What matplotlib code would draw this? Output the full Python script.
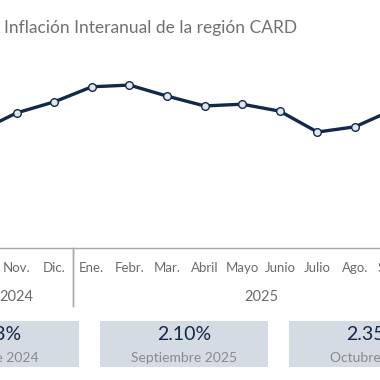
import matplotlib
matplotlib.use("Agg")
import matplotlib.pyplot as plt
from matplotlib.patches import Rectangle
from matplotlib.transforms import blended_transform_factory

plt.rcParams["font.family"] = ["Lato", "DejaVu Sans"]

# data
months = ["Oct.", "Nov.", "Dic.", "Ene.", "Febr.", "Mar.", "Abril", "Mayo",
          "Junio", "Julio", "Ago.", "Sept.", "Oct."]
inflation = [1.73, 2.05, 2.24, 2.50, 2.53, 2.34, 2.17, 2.20, 2.08, 1.72,
             1.81, 2.10, 2.35]
years = ["2024", "2025"]
year_spans = [(-0.5, 2.5), (2.5, 12.5)]
box_values = ["1.73%", "2.10%", "2.35%"]
box_labels = ["Octubre 2024", "Septiembre 2025", "Octubre 2025"]

navy = "#13284a"
grey = "#6b6b6b"
rule = "#a8a8a8"
box_col = "#d5dbe3"

fig = plt.figure(figsize=(3.8, 3.8), dpi=100)
ax = fig.add_axes([0, 0, 1, 1])
ax.set_axis_off()

# pixel mapping: 37.6 px per month, first month at x=-21 px
ax.set_xlim((0 + 21) / 37.6, (380 + 21) / 37.6)
ax.set_ylim(2.10 - 270 / 58, 2.10 + 110 / 58)

x = list(range(len(months)))
ax.plot(x, inflation, color=navy, lw=2.4, zorder=3, solid_capstyle="round")
ax.plot(x, inflation, ls="none", marker="o", ms=5.5, mfc="#dfe6f2",
        mec=navy, mew=1.0, zorder=4)

fig.text(4 / 380, 1 - 28 / 380, "Inflación Interanual de la región CARD",
         color="#707070", fontsize=12.5, va="center", ha="left")

tr = blended_transform_factory(ax.transData, ax.transAxes)
ax.plot([0, 1], [1 - 248 / 380] * 2, transform=ax.transAxes, color=rule,
        lw=1.0)

for i, m in enumerate(months):
    ax.text(i, 1 - 268 / 380, m, transform=tr, ha="center", va="center",
            color=grey, fontsize=9.5)

for (a, b), yr in zip(year_spans, years):
    ax.text((a + b) / 2, 1 - 297 / 380, yr, transform=tr, ha="center",
            va="center", color=grey, fontsize=10.5)
    for edge in (a, b):
        ax.plot([edge, edge], [1 - 248 / 380, 1 - 306 / 380], transform=tr,
                color=rule, lw=1.0)

# summary boxes
box_w, gap = 168, 21
for k, (val, lab) in enumerate(zip(box_values, box_labels)):
    left = -89 + k * (box_w + gap)
    ax.add_patch(Rectangle((left / 380, 1 - 367 / 380), box_w / 380, 46 / 380,
                           transform=ax.transAxes, color=box_col, lw=0))
    cx = (left + box_w / 2) / 380
    ax.text(cx, 1 - 335 / 380, val, transform=ax.transAxes, ha="center",
            va="center", color=navy, fontsize=14)
    ax.text(cx, 1 - 358 / 380, lab, transform=ax.transAxes, ha="center",
            va="center", color="#8a8a8a", fontsize=10)

fig.savefig("out.png", dpi=100)
